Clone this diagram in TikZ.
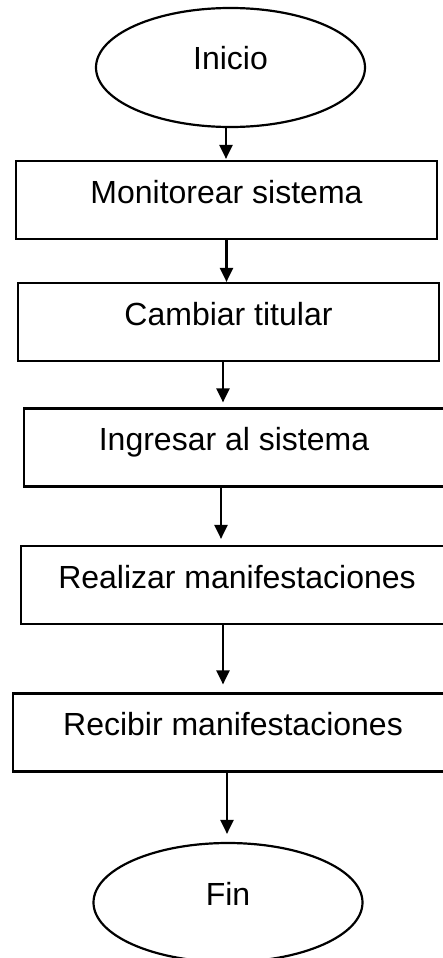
\documentclass[tikz,border=0pt]{standalone}
\usepackage{fontspec}
\setmainfont{Liberation Sans}
\usepackage{xcolor}
\usetikzlibrary{arrows.meta,positioning,shapes.geometric}

\begin{document}
\begin{tikzpicture}[x=1pt,y=-1pt,>=Latex,
    every node/.style={font=\fontsize{32}{38}\selectfont},
    terminal/.style={draw,ellipse,line width=2.2pt,inner sep=0pt,
      minimum width=269pt,minimum height=119pt,
      text height=20pt,text depth=15pt},
    paso/.style={draw,rectangle,line width=2.2pt,inner xsep=0pt,inner ysep=0pt,
      text height=42pt,text depth=36pt},
    flecha/.style={-{Triangle[length=14pt,width=13pt]},line width=2.2pt}]
  \clip (0,0) rectangle (443,958);

  % Start and end.
  \node[terminal] (inicio) at (230.5,67.5) {Inicio};
  \node[terminal] (fin) at (228,902.5) {Fin};

  % Steps.
  \node[paso,minimum width=421pt] (monitorear) at (226.5,200) {Monitorear sistema};
  \node[paso,minimum width=421pt] (cambiar) at (228.5,322) {Cambiar titular};
  \node[paso,minimum width=420pt] (ingresar) at (234,447.5) {Ingresar al sistema};
  \node[paso,minimum width=432pt] (realizar) at (237,585) {Realizar manifestaciones};
  \node[paso,minimum width=440pt] (recibir) at (233,732.5) {Recibir manifestaciones};

  % Connectors.
  \draw[flecha,shorten >=1pt] ([xshift=-4.5pt]inicio.south)
        -- ([xshift=-4.5pt]inicio.south |- monitorear.north);
  \draw[flecha] (monitorear.south) -- (monitorear.south |- cambiar.north);
  \draw[flecha,shorten >=5pt] ([xshift=-5.5pt]cambiar.south)
        -- ([xshift=-5.5pt]cambiar.south |- ingresar.north);
  \draw[flecha,shorten >=6pt] ([xshift=-13pt]ingresar.south)
        -- ([xshift=-13pt]ingresar.south |- realizar.north);
  \draw[flecha,shorten >=8pt] ([xshift=-14pt]realizar.south)
        -- ([xshift=-14pt]realizar.south |- recibir.north);
  \draw[flecha,shorten >=8pt] ([xshift=-6pt]recibir.south)
        -- ([xshift=-6pt]recibir.south |- fin.north);
\end{tikzpicture}
\end{document}
